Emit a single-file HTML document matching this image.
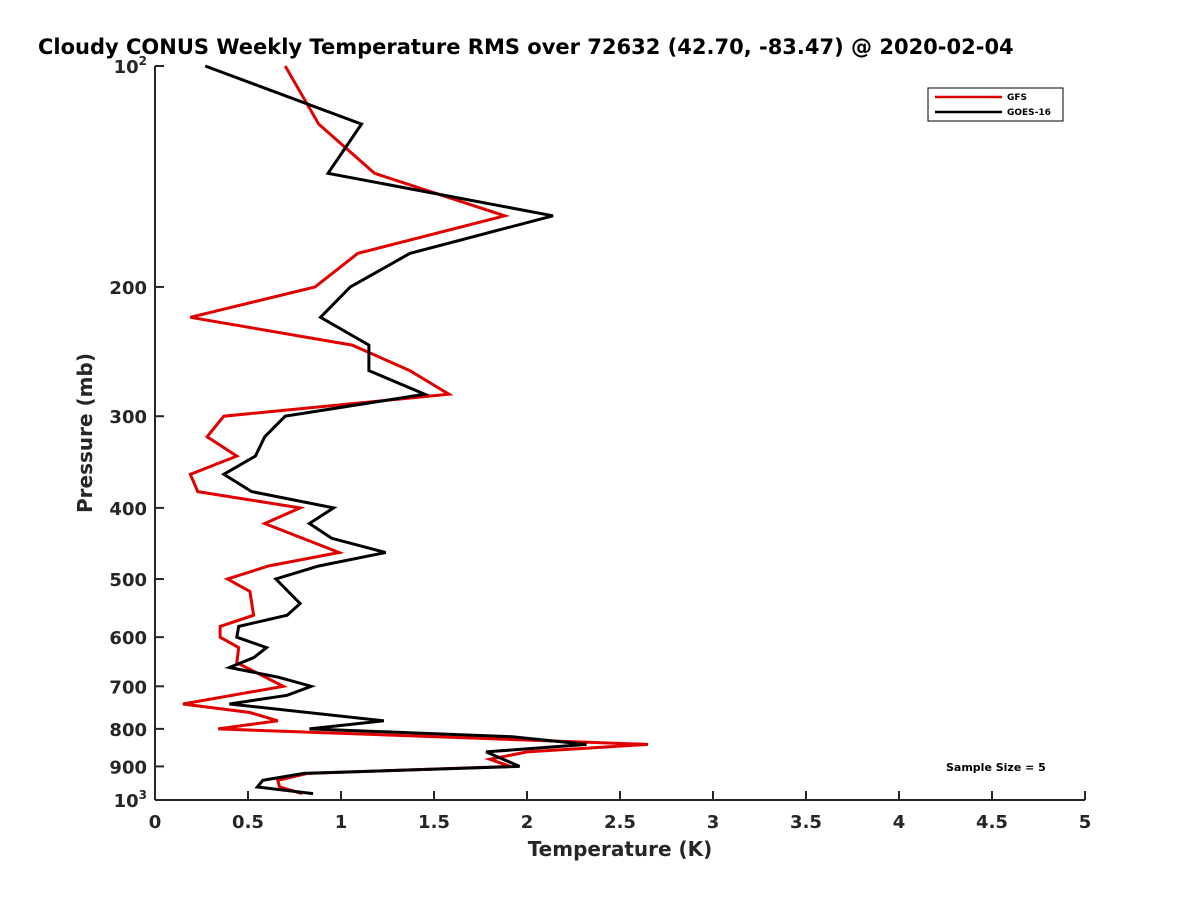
<!DOCTYPE html>
<html><head><meta charset="utf-8"><style>
body{margin:0;background:#fff}
svg{display:block;font-family:"DejaVu Sans","Liberation Sans",sans-serif;font-weight:bold}
</style></head><body>
<svg id="chart" width="1200" height="900" viewBox="0 0 1200 900" xmlns="http://www.w3.org/2000/svg">
<rect width="1200" height="900" fill="#fff"/>
<text x="38" y="54" font-size="21" fill="#000">Cloudy CONUS Weekly Temperature RMS over 72632 (42.70, -83.47) @ 2020-02-04</text>
<g id="axes"></g>
<g id="series"></g>
<g>
<rect x="928" y="88" width="135" height="33" fill="#fff" stroke="#000" stroke-width="1"/>
<line x1="935" y1="97" x2="1002" y2="97" stroke="#e00000" stroke-width="2.5"/>
<text x="1007" y="100" font-size="9">GFS</text>
<line x1="935" y1="112" x2="1002" y2="112" stroke="#000" stroke-width="2.5"/>
<text x="1007" y="115" font-size="9">GOES-16</text>
</g>
<text x="946" y="771" font-size="11">Sample Size = 5</text>
<text x="620" y="856" font-size="20" text-anchor="middle" fill="#262626">Temperature (K)</text>
<text transform="translate(92,433) rotate(-90)" font-size="20" text-anchor="middle" fill="#262626">Pressure (mb)</text>
</svg>
<script>
const xTicks=[0,0.5,1,1.5,2,2.5,3,3.5,4,4.5,5];
const xTickLabels=["0","0.5","1","1.5","2","2.5","3","3.5","4","4.5","5"];
const yTicks=[100,200,300,400,500,600,700,800,900,1000];
const yTickLabels=["10|2","200","300","400","500","600","700","800","900","10|3"];
const goesP=[100,120,140,160,180,200,220,240,260,280,300,320,340,360,380,400,420,440,460,480,500,540,560,580,600,620,640,660,680,700,720,740,780,800,820,840,860,900,920,940,960,980];
const goesT=[0.27,1.11,0.93,2.14,1.37,1.05,0.89,1.15,1.15,1.45,0.70,0.59,0.54,0.37,0.52,0.96,0.83,0.95,1.24,0.88,0.65,0.78,0.71,0.45,0.44,0.60,0.53,0.40,0.66,0.84,0.71,0.40,1.23,0.83,1.92,2.32,1.78,1.96,0.80,0.58,0.55,0.85];
const gfsP=[100,120,140,160,180,200,220,240,260,280,300,320,340,360,380,400,420,460,480,500,520,560,580,600,620,650,700,740,760,780,800,840,860,880,900,920,940,960,980];
const gfsT=[0.70,0.88,1.18,1.88,1.09,0.86,0.19,1.06,1.37,1.58,0.37,0.28,0.44,0.19,0.23,0.78,0.59,0.99,0.61,0.39,0.51,0.53,0.35,0.35,0.45,0.44,0.69,0.15,0.51,0.66,0.34,2.65,2.00,1.80,1.91,0.82,0.66,0.67,0.79];

const X0=155,X1=1085,Y0=66,Y1=800;
const xs=t=>X0+(t-0)/(5-0)*(X1-X0);
const ys=p=>Y0+(Math.log10(p)-2)*(Y1-Y0);
const NS="http://www.w3.org/2000/svg";
const axes=document.getElementById('axes');
function mk(tag,attrs,parent){const e=document.createElementNS(NS,tag);for(const k in attrs)e.setAttribute(k,attrs[k]);parent.appendChild(e);return e;}

const yAxis=mk('line',{x1:X0,y1:Y0,x2:X0,y2:Y1,stroke:'#262626','stroke-width':2},axes);


const xAxis=mk('line',{x1:X0,y1:Y1,x2:X1,y2:Y1,stroke:'#262626','stroke-width':2},axes);



xTicks.forEach((t,i)=>{
  const x=xs(t);
  const tk=mk('line',{x1:x,y1:Y1,x2:x,y2:Y1-9,stroke:'#262626','stroke-width':2},axes);
  
  
  const lb=mk('text',{x:x,y:Y1+28,'font-size':18,'text-anchor':'middle',fill:'#262626'},axes);
  lb.textContent=xTickLabels[i];
  
  
});
yTicks.forEach((p,i)=>{
  const y=ys(p);
  const tk=mk('line',{x1:X0,y1:y,x2:X0+9,y2:y,stroke:'#262626','stroke-width':2},axes);
  
  
  const parts=yTickLabels[i].split('|');
  const lb=mk('text',{x:X0-8,y:y+7,'font-size':18,'text-anchor':'end',fill:'#262626'},axes);
  
  
  if(parts.length>1){
    const a=mk('tspan',{},lb);a.textContent=parts[0];
    const b=mk('tspan',{dy:-8,'font-size':12},lb);b.textContent=parts[1];
  } else lb.textContent=parts[0];
});

const ser=document.getElementById('series');
function line(P,T,color,name){
  const pts=P.map((p,i)=>xs(T[i]).toFixed(1)+','+ys(p).toFixed(1)).join(' ');
  const pl=mk('polyline',{points:pts,fill:'none',stroke:color,'stroke-width':3,'stroke-linejoin':'miter'},ser);
  
  
}
line(gfsP,gfsT,'#e00000','gfs-line');
line(goesP,goesT,'#000','goes16-line');
</script>
</body></html>
